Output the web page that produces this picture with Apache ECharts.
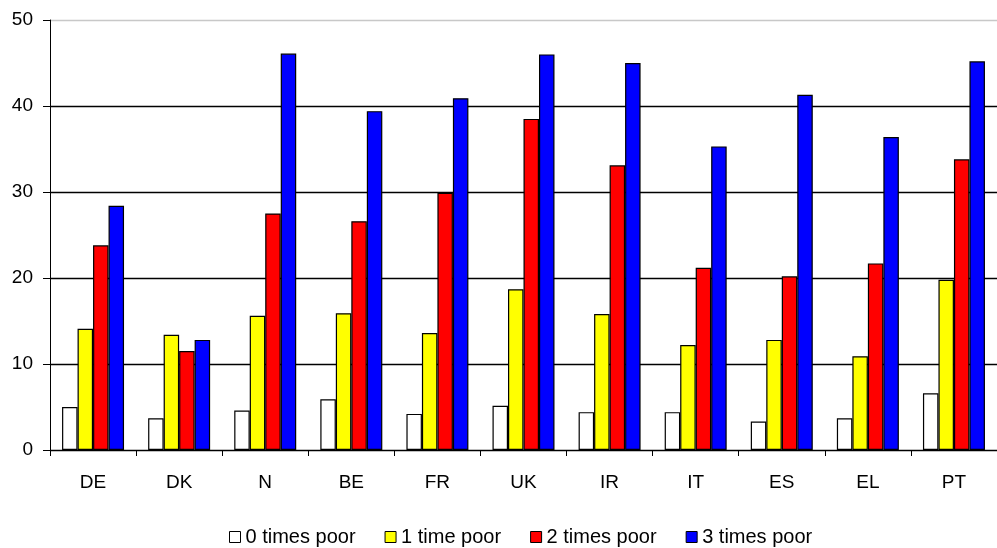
<!DOCTYPE html>
<html>
<head>
<meta charset="utf-8">
<script src="https://cdn.jsdelivr.net/npm/echarts@6/dist/echarts.min.js"></script>
<style>
html,body{margin:0;padding:0;background:#fff;}
#chart{width:997px;height:548px;}
</style>
</head>
<body>
<div id="chart"></div>
<script>
const categories = ['DE','DK','N','BE','FR','UK','IR','IT','ES','EL','PT'];
const seriesNames = ['0 times poor','1 time poor','2 times poor','3 times poor'];
const times0 = [5.0, 3.7, 4.6, 5.9, 4.2, 5.15, 4.4, 4.4, 3.3, 3.7, 6.6];
const times1 = [14.1, 13.4, 15.6, 15.9, 13.6, 18.7, 15.8, 12.2, 12.8, 10.9, 19.8];
const times2 = [23.8, 11.5, 27.5, 26.6, 29.9, 38.5, 33.1, 21.2, 20.2, 21.7, 33.8];
const times3 = [28.4, 12.8, 46.1, 39.4, 40.9, 46.0, 45.0, 35.3, 41.3, 36.4, 45.2];
const yTicks = [0, 10, 20, 30, 40, 50];

const colors = ['#ffffff', '#ffff00', '#ff0000', '#0000ff'];
const allData = [times0, times1, times2, times3];

const chart = echarts.init(document.getElementById('chart'), null, {renderer: 'canvas'});
const font = 'Liberation Sans, Arial, sans-serif';
chart.setOption({
  animation: false,
  backgroundColor: '#fff',
  textStyle: {fontFamily: font},
  grid: {left: 50, right: -10, top: 20, bottom: 98, containLabel: false},
  legend: {
    data: seriesNames,
    top: 527,
    left: 229,
    padding: 0,
    itemWidth: 11,
    itemHeight: 11,
    itemGap: 29,
    textStyle: {fontSize: 20, color: '#000', fontFamily: font},
    icon: 'rect',
    itemStyle: {borderColor: '#000', borderWidth: 1}
  },
  xAxis: {
    type: 'category',
    data: categories,
    axisLine: {lineStyle: {color: '#000', width: 1}},
    axisTick: {show: true, length: 6, lineStyle: {color: '#000'}},
    axisLabel: {fontSize: 19, color: '#000', margin: 23, fontFamily: font},
    splitLine: {show: false}
  },
  yAxis: {
    type: 'value',
    min: yTicks[0],
    max: yTicks[yTicks.length - 1],
    interval: 10,
    axisLine: {show: true, lineStyle: {color: '#000', width: 1}},
    axisTick: {show: true, length: 7, lineStyle: {color: '#000'}},
    axisLabel: {fontSize: 19, color: '#000', margin: 17, fontFamily: font},
    splitLine: {show: true, lineStyle: {color: ['#000', '#000', '#000', '#000', '#000', '#c8c8c8'], width: 1.3}}
  },
  series: seriesNames.map((name, i) => ({
    name: name,
    type: 'bar',
    data: allData[i],
    barGap: '0%',
    barCategoryGap: '28%',
    itemStyle: {color: colors[i], borderColor: '#000', borderWidth: 1.2}
  }))
});
</script>
</body>
</html>
